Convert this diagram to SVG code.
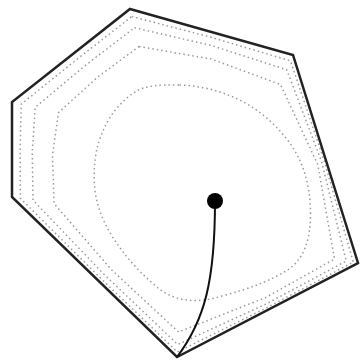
<svg xmlns="http://www.w3.org/2000/svg" width="360" height="361" viewBox="0 0 360 361">
  <style>
    .ring { fill: none; stroke: #9a9a9a; stroke-width: 1.5; stroke-dasharray: 1.5 3; stroke-linejoin: round; }
    .hex { fill: none; stroke: #222; stroke-width: 2.5; stroke-linejoin: miter; }
    .link { fill: none; stroke: #111; stroke-width: 2; }
  </style>
  <rect width="360" height="361" fill="#fff"/>
  <g id="rings">
    <polygon class="ring" points="131.8,16.5 211.45,37.4 290.5,60.9 323.95,160.1 353.3,262.2 267.15,307.5 177.3,352 97.85,275.5 20.4,198.3 20.1,150.55 21.3,104.1 76.4,59.75"/>
    <polygon class="ring" points="134.5,27.75 211.4,45.5 286.75,69.75 321.6,161.75 346.25,261 266.6,303.75 177.75,344.5 102.9,273.25 33,200.25 32.25,152.1 35.25,107.25 84.5,66.1"/>
    <polygon class="ring" points="139,46.5 211.25,59 280.5,84.5 317.75,164.5 334.5,259 265.75,297.5 178.5,332 111.25,269.5 54,203.5 52.5,154.75 58.5,112.5 98,76.75"/>
    <path class="ring" d="M179.5,85 Q211,86 239.5,100 Q268,114 289,142 Q310,170 310.5,212.5 Q311,255 287.5,270 Q264,285 222,296 Q180,309 154,284.5 Q128,262 112,236 Q96,210 94.5,185 Q93,160 99,141.5 Q105,123 115,110.5 Q125,98 136.5,91 Q148,84 179.5,85 Z"/>
  </g>
  <g id="hexagon">
    <polygon class="hex" points="130,9 293,55 358,263 177,357 12,197 12,102"/>
  </g>
  <g id="connectors">
    <path class="link" d="M215,201 C215,280 205,320 177,357"/>
  </g>
  <g id="dot">
    <circle cx="215" cy="201" r="8" fill="#000"/>
  </g>
</svg>
